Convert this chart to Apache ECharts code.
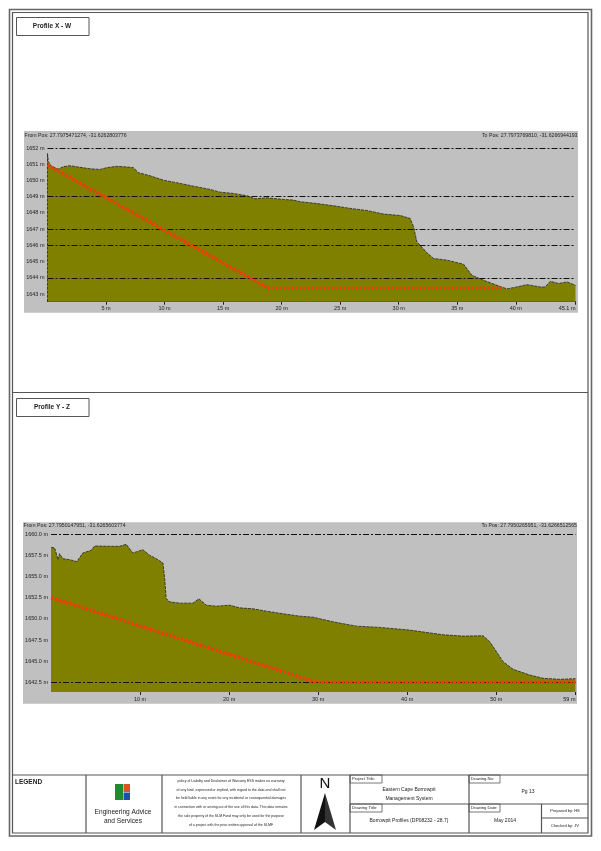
<!DOCTYPE html>
<html>
<head>
<meta charset="utf-8">
<title>Borrowpit Profiles</title>
<script src="https://cdn.jsdelivr.net/npm/echarts@6/dist/echarts.min.js"></script>
<style>
html,body{margin:0;padding:0;background:#fff;overflow:hidden;}
#main{width:601px;height:851px;}
</style>
</head>
<body>
<div id="main"></div>
<script>
// profile X - W : distance (m) / elevation (m)
var xwDist=[0,0,0.07,0.36,0.93,1.35,1.92,2.78,3.63,4.49,5.06,5.91,6.77,7.34,7.76,8.76,9.9,11.04,12.46,13.89,14.74,15.88,17.02,17.73,18.73,20.16,21.01,21.58,23,24.43,25.85,27.28,28.7,30.13,30.98,31.27,31.55,32.41,32.98,34.12,35.54,36.25,37.25,38.39,39.24,40.1,40.95,42.09,42.52,42.95,43.66,44.37,45.1];
var xwElev=[1642.53,1651.67,1651.16,1650.85,1650.7,1650.85,1650.91,1650.81,1650.72,1650.68,1650.79,1650.87,1650.83,1650.79,1650.48,1650.29,1650.02,1649.86,1649.65,1649.45,1649.28,1649.2,1649.06,1648.87,1648.93,1648.83,1648.79,1648.69,1648.58,1648.44,1648.28,1648.15,1647.93,1647.84,1647.66,1647.14,1646.22,1645.54,1645.19,1645.09,1644.84,1644.16,1643.85,1643.54,1643.32,1643.44,1643.58,1643.44,1643.44,1643.79,1643.65,1643.75,1643.54];
var xwCutDist=[0,18.87,38.96];
var xwCutElev=[1650.95,1643.36,1643.36];
var xwYTicks=[1643,1644,1645,1646,1647,1648,1649,1650,1651,1652];
var xwGridLines=[1652,1649,1647,1646,1644];
var xwXTicks=[5,10,15,20,25,30,35,40,45.1];
var xwXLabels=['5 m','10 m','15 m','20 m','25 m','30 m','35 m','40 m','45.1 m'];

// profile Y - Z
var yzDist=[0,0.39,0.58,0.77,0.96,1.33,2.08,2.9,3.58,4.51,4.89,6.57,7.7,8.45,9.19,10.32,11.07,11.82,12.57,12.75,12.94,13.31,14.44,15.94,16.61,17.44,18.56,20.06,21.18,22.68,24.18,26.05,27.93,29.42,31.67,34.29,36.91,40.28,44.03,46.27,48.52,49.27,50.77,51.89,53.76,55.26,57.13,58.9];
var yzElev=[1658.42,1658.42,1657.79,1657,1657.71,1657.12,1657,1656.77,1657.79,1658.1,1658.62,1658.58,1658.58,1658.81,1657.79,1658.18,1657.52,1657.12,1656.61,1654.96,1652.41,1652.01,1651.86,1651.86,1652.37,1651.62,1651.5,1651.62,1651.3,1651.19,1650.91,1650.6,1650.32,1650.2,1649.65,1649.14,1648.99,1648.67,1648.12,1647.96,1648,1647.3,1644.94,1644.03,1643.36,1642.97,1642.85,1642.93];
var yzCutDist=[0,29.8,58.9];
var yzCutElev=[1652.52,1642.5,1642.5];
var yzYTicks=[1642.5,1645,1647.5,1650,1652.5,1655,1657.5,1660];
var yzGridLines=[1660,1642.5];
var yzXTicks=[10,20,30,40,50,58.9];
var yzXLabels=['10 m','20 m','30 m','40 m','50 m','59 m'];

var disclaimer=[
 'policy of Liability and Disclaimer of Warranty ESS makes no warranty',
 'of any kind, expressed or implied, with regard to the data and shall not',
 'be held liable in any event for any incidental or consequential damages',
 'in connection with or arising out of the use of this data. This data remains',
 'the sole property of the SLM Fund may only be used for the purpose',
 'of a project with the prior written approval of the SLMF'
];

var FRAME='#555';
var SANS='"Liberation Sans", Arial, sans-serif';

function zip(a,b){
    var out=[];
    for(var i=0;i<a.length;i++){out.push([a[i],b[i]]);}
    return out;
}
function box(x,y,w,h,fill,stroke,lw){
    return {type:'rect',z:0,shape:{x:x,y:y,width:w,height:h},style:{fill:fill||'none',stroke:stroke||null,lineWidth:lw||1}};
}
function ln(x1,y1,x2,y2,lw){
    return {type:'line',z:1,shape:{x1:x1,y1:y1,x2:x2,y2:y2},style:{stroke:FRAME,lineWidth:lw||1}};
}
function txt(x,y,s,size,align,bold,color){
    return {type:'text',z:10,x:x,y:y,style:{text:s,fill:color||'#222',align:align||'center',verticalAlign:'middle',
        font:(bold?'bold ':'')+size+'px '+SANS}};
}
function tab(x,y,w,s){
    return [box(x,y,w,8,'#fff',FRAME,0.8),txt(x+2,y+4,s,4.2,'left')];
}

var graphics=[];
// page frame
graphics.push(box(9.5,9.5,582,826.5,'#fff','#666',1.6));
graphics.push(box(12.5,12.5,575.5,820.5,'#fff',FRAME,1.2));
graphics.push(ln(12.5,392.5,588,392.5,1.2));
graphics.push(ln(12.5,775,588,775,1.2));
// profile title boxes
graphics.push(box(16.5,17.5,72.5,18,'#fff',FRAME,1));
graphics.push(txt(52,26.5,'Profile X - W',6.5,'center',true));
graphics.push(box(16.5,398.5,72.5,18,'#fff',FRAME,1));
graphics.push(txt(52,407.5,'Profile Y - Z',6.5,'center',true));
// grey panels behind the plots
graphics.push(box(24,131,554,181.7,'#c0c0c0'));
graphics.push(box(23,522.3,554,181.4,'#c0c0c0'));
graphics.push(txt(24.5,135.5,'From Pos: 27.7975471274, -31.6262803776',5.2,'left'));
graphics.push(txt(577.5,135.5,'To Pos: 27.7973769810, -31.6266944193',5.2,'right'));
graphics.push(txt(23.5,526,'From Pos: 27.7950147951, -31.6265603774',5.2,'left'));
graphics.push(txt(577,526,'To Pos: 27.7950265951, -31.6266512565',5.2,'right'));
// title block
graphics.push(ln(86,775,86,833,1.2));
graphics.push(ln(162,775,162,833,1.2));
graphics.push(ln(301,775,301,833,1.2));
graphics.push(ln(350,775,350,833,1.2));
graphics.push(ln(469,775,469,833,1.2));
graphics.push(ln(350,804,588,804,1.2));
graphics.push(ln(541.5,804,541.5,833,1.2));
graphics.push(ln(541.5,818,588,818,1.2));
graphics.push(txt(15,782,'LEGEND',6.5,'left',true));
// logo
graphics.push(box(115,784,8,16,'#1f8a2e'));
graphics.push(box(123.5,784,6.5,8,'#d9541e'));
graphics.push(box(123.5,792.5,6.5,7.5,'#1f4fa0'));
graphics.push(txt(123,812.5,'Engineering Advice',6.6));
graphics.push(txt(123,821,'and Services',6.6));
for(var d=0;d<disclaimer.length;d++){
    graphics.push(txt(231,780.7+d*8.9,disclaimer[d],3.5));
}
// north arrow
graphics.push(txt(325,784,'N',15,'center',false,'#111'));
graphics.push({type:'polygon',z:5,shape:{points:[[325,793],[314,830],[325,822]]},style:{fill:'#111'}});
graphics.push({type:'polygon',z:5,shape:{points:[[325,793],[336,830],[325,822]]},style:{fill:'#333'}});
graphics=graphics.concat(tab(350,775,32,'Project Title:'));
graphics=graphics.concat(tab(469,775,31,'Drawing No:'));
graphics=graphics.concat(tab(350,804,32,'Drawing Title:'));
graphics=graphics.concat(tab(469,804,31,'Drawing Date:'));
graphics.push(txt(409,790,'Eastern Cape Borrowpit',5));
graphics.push(txt(409,798.5,'Management System',5));
graphics.push(txt(528,792,'Pg 13',5));
graphics.push(txt(409,821,'Borrowpit Profiles (DP08232 - 28.7)',5));
graphics.push(txt(505,821,'May 2014',5));
graphics.push(txt(565,811,'Prepared by: HS',4));
graphics.push(txt(565,825.5,'Checked by: JV',4));

function xAxisFor(idx,maxV,ticks,labels,showLine){
    return {
        type:'value',gridIndex:idx,min:0,max:maxV,
        axisLine:{show:showLine,onZero:false,lineStyle:{color:'#333',width:1}},
        axisTick:{show:true,length:3,customValues:ticks,lineStyle:{color:'#222'}},
        axisLabel:{
            customValues:ticks,margin:4,fontSize:5.5,color:'#222',fontFamily:SANS,alignMaxLabel:'right',
            formatter:function(v){return labels[ticks.indexOf(v)];}
        },
        splitLine:{show:false}
    };
}
function yAxisFor(idx,minV,maxV,ticks,digits){
    return {
        type:'value',gridIndex:idx,min:minV,max:maxV,
        axisLine:{show:false},
        axisTick:{show:false},
        axisLabel:{
            customValues:ticks,margin:3,fontSize:5.5,color:'#222',fontFamily:SANS,
            formatter:function(v){return v.toFixed(digits)+' m';}
        },
        splitLine:{show:false}
    };
}
function terrain(idx,data,lines){
    return {
        type:'line',xAxisIndex:idx,yAxisIndex:idx,data:data,z:2,
        showSymbol:false,symbol:'none',silent:true,
        lineStyle:{color:'#222',width:0.8,type:[3,1]},
        areaStyle:{color:'#808000',opacity:1},
        markLine:{
            silent:true,symbol:'none',animation:false,
            label:{show:false},
            lineStyle:{color:'#111',width:1,type:[6,2,2,2]},
            data:lines.map(function(v){return {yAxis:v};})
        }
    };
}
function cutLine(idx,data){
    return {
        type:'line',xAxisIndex:idx,yAxisIndex:idx,data:data,z:5,
        showSymbol:false,symbol:'none',silent:true,
        lineStyle:{color:'#f03c0c',width:3.4,type:[2.6,1.4]}
    };
}

var chart=echarts.init(document.getElementById('main'),null,{renderer:'canvas'});
chart.setOption({
    animation:false,
    backgroundColor:'#fff',
    graphic:{elements:graphics},
    grid:[
        {left:47.5,right:25.5,top:148,bottom:549.3},
        {left:51,right:25.5,top:534.3,bottom:159}
    ],
    xAxis:[
        xAxisFor(0,45.1,xwXTicks,xwXLabels,true),
        xAxisFor(1,58.9,yzXTicks,yzXLabels,false)
    ],
    yAxis:[
        yAxisFor(0,1642.53,1652,xwYTicks,0),
        yAxisFor(1,1641.35,1660,yzYTicks,1)
    ],
    series:[
        terrain(0,zip(xwDist,xwElev),xwGridLines),
        cutLine(0,zip(xwCutDist,xwCutElev)),
        terrain(1,zip(yzDist,yzElev),yzGridLines),
        cutLine(1,zip(yzCutDist,yzCutElev))
    ]
});
</script>
</body>
</html>
